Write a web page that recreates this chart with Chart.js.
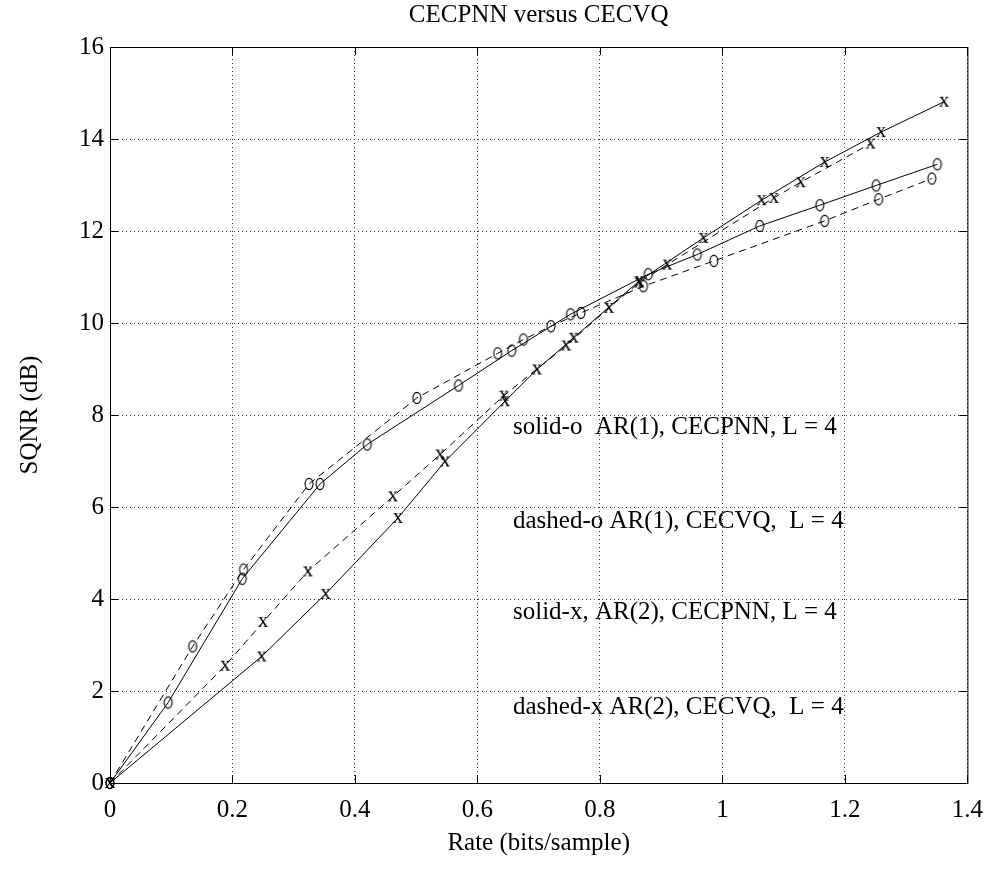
<!DOCTYPE html>
<html>
<head>
<meta charset="utf-8">
<title>CECPNN versus CECVQ</title>
<script src="https://cdn.jsdelivr.net/npm/chart.js@4.4.1/dist/chart.umd.min.js"></script>
<style>
    html, body { margin: 0; padding: 0; background: #fff; }
    #wrap { width: 995px; height: 890px; position: relative; }
</style>
</head>
<body>
<div id="wrap"><canvas id="sqnrChart"></canvas></div>
<script>
// ── data ──
// solid-o: AR(1), CECPNN
const soRate = [0, 0.095, 0.216, 0.343, 0.420, 0.569, 0.656, 0.752, 0.879, 0.959, 1.061, 1.159, 1.251, 1.351];
const soSqnr = [0, 1.75, 4.44, 6.50, 7.36, 8.64, 9.40, 10.19, 11.06, 11.49, 12.11, 12.56, 12.99, 13.45];
// dashed-o: AR(1), CECVQ
const doRate = [0, 0.135, 0.218, 0.325, 0.501, 0.633, 0.675, 0.720, 0.769, 0.871, 0.986, 1.167, 1.255, 1.342];
const doSqnr = [0, 2.97, 4.64, 6.50, 8.37, 9.34, 9.64, 9.93, 10.22, 10.80, 11.35, 12.22, 12.69, 13.14];
// solid-x: AR(2), CECPNN
const sxRate = [0, 0.2475, 0.352, 0.470, 0.547, 0.645, 0.697, 0.757, 0.864, 0.969, 1.064, 1.167, 1.259, 1.362];
const sxSqnr = [0, 2.75, 4.11, 5.76, 6.99, 8.30, 8.99, 9.68, 10.91, 11.85, 12.67, 13.50, 14.15, 14.81];
// dashed-x: AR(2), CECVQ
const dxRate = [0, 0.188, 0.250, 0.323, 0.462, 0.539, 0.643, 0.745, 0.815, 0.864, 0.910, 1.084, 1.128, 1.242];
const dxSqnr = [0, 2.55, 3.50, 4.60, 6.23, 7.14, 8.42, 9.51, 10.33, 10.88, 11.27, 12.72, 13.06, 13.90];

const xTickLabels = ['0', '0.2', '0.4', '0.6', '0.8', '1', '1.2', '1.4'];
const yTickLabels = ['0', '2', '4', '6', '8', '10', '12', '14', '16'];

const noteTexts = [
    'solid-o  AR(1), CECPNN, L = 4',
    'dashed-o AR(1), CECVQ,  L = 4',
    'solid-x, AR(2), CECPNN, L = 4',
    'dashed-x AR(2), CECVQ,  L = 4',
];
const noteRate = 0.658;
const noteSqnr = [7.73, 5.68, 3.70, 1.65];

const SERIF = '"Liberation Serif", "DejaVu Serif", serif';

// text-like markers, like the old plot
function makeMarker(kind) {
    const c = document.createElement('canvas');
    c.width = 16; c.height = 16;
    const g = c.getContext('2d');
    g.strokeStyle = '#000';
    g.fillStyle = '#000';
    g.lineWidth = 1.1;
    if (kind === 'o') {
        g.beginPath();
        g.ellipse(8, 8, 4, 5.6, 0, 0, Math.PI * 2);
        g.stroke();
    } else {
        g.font = '21px ' + SERIF;
        g.textAlign = 'center';
        g.textBaseline = 'alphabetic';
        g.fillText('x', 8, 13);
    }
    return c;
}
const oMark = makeMarker('o');
const xMark = makeMarker('x');

const pts = (xs, ys) => xs.map((x, i) => ({ x, y: ys[i] }));

function series(label, xs, ys, mark, dashed) {
    return {
        label,
        data: pts(xs, ys),
        borderColor: '#000',
        backgroundColor: '#000',
        borderWidth: 1,
        borderDash: dashed ? [7, 5] : [],
        pointStyle: mark,
        pointRadius: 7,
        pointHoverRadius: 7,
        tension: 0,
        clip: false,
    };
}

// frame, inner ticks and the text notes
const framePlugin = {
    id: 'frame',
    afterDatasetsDraw(chart) {
        const { ctx, chartArea: a, scales: { x, y } } = chart;
        ctx.save();
        ctx.strokeStyle = '#000';
        ctx.lineWidth = 1;
        ctx.strokeRect(a.left + 0.5, a.top + 0.5, a.right - a.left, a.bottom - a.top);
        const tl = 8;
        ctx.beginPath();
        x.ticks.forEach(t => {
            const px = Math.round(x.getPixelForValue(t.value)) + 0.5;
            ctx.moveTo(px, a.bottom); ctx.lineTo(px, a.bottom - tl);
            ctx.moveTo(px, a.top); ctx.lineTo(px, a.top + tl);
        });
        y.ticks.forEach(t => {
            const py = Math.round(y.getPixelForValue(t.value)) + 0.5;
            ctx.moveTo(a.left, py); ctx.lineTo(a.left + tl, py);
            ctx.moveTo(a.right, py); ctx.lineTo(a.right - tl, py);
        });
        ctx.stroke();

        ctx.fillStyle = '#000';
        ctx.font = '25px ' + SERIF;
        ctx.textAlign = 'left';
        ctx.textBaseline = 'middle';
        noteTexts.forEach((txt, i) => {
            ctx.fillText(txt, x.getPixelForValue(noteRate), y.getPixelForValue(noteSqnr[i]));
        });
        ctx.restore();
    }
};

const ctx = document.getElementById('sqnrChart').getContext('2d');

new Chart(ctx, {
    type: 'line',
    data: {
        datasets: [
            series('solid-o', soRate, soSqnr, oMark, false),
            series('dashed-o', doRate, doSqnr, oMark, true),
            series('solid-x', sxRate, sxSqnr, xMark, false),
            series('dashed-x', dxRate, dxSqnr, xMark, true),
        ]
    },
    options: {
        responsive: true,
        maintainAspectRatio: false,
        animation: false,
        events: [],
        layout: { padding: { top: 0, right: 23, left: 0, bottom: 0 } },
        plugins: {
            legend: { display: false },
            tooltip: { enabled: false },
            title: {
                display: true,
                text: 'CECPNN versus CECVQ',
                fullSize: false,
                color: '#000',
                font: { family: SERIF, size: 25, weight: 'normal', lineHeight: 1.2 },
                padding: { top: 0, bottom: 17 },
            }
        },
        scales: {
            x: {
                type: 'linear',
                min: 0,
                max: 1.4,
                afterFit: (s) => { s.height = 107; },
                afterBuildTicks: (s) => { s.ticks = xTickLabels.map((_, i) => ({ value: i * 0.2 })); },
                ticks: {
                    color: '#000',
                    font: { family: SERIF, size: 25 },
                    padding: 12,
                    maxRotation: 0,
                    callback: (v, i) => xTickLabels[i],
                },
                grid: { color: '#333', drawTicks: false },
                border: { display: false, dash: [1, 3] },
                title: {
                    display: true,
                    text: 'Rate (bits/sample)',
                    color: '#000',
                    font: { family: SERIF, size: 25, lineHeight: 1.2 },
                    padding: { top: 0, bottom: 32 },
                }
            },
            y: {
                type: 'linear',
                min: 0,
                max: 16,
                afterFit: (s) => { s.width = 110; },
                afterBuildTicks: (s) => { s.ticks = yTickLabels.map((_, i) => ({ value: i * 2 })); },
                ticks: {
                    color: '#000',
                    font: { family: SERIF, size: 25 },
                    padding: 6,
                    callback: (v, i) => yTickLabels[i],
                },
                grid: { color: '#333', drawTicks: false },
                border: { display: false, dash: [1, 3] },
                title: {
                    display: true,
                    text: 'SQNR (dB)',
                    color: '#000',
                    font: { family: SERIF, size: 25, lineHeight: 1.2 },
                    padding: { top: 15, bottom: 0 },
                }
            }
        }
    },
    plugins: [framePlugin]
});
</script>
</body>
</html>
